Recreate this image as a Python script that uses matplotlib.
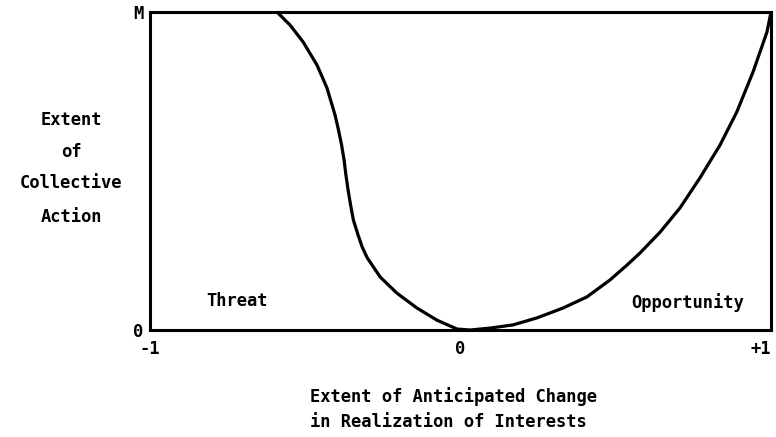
#!/usr/bin/env python3
"""Collective action as a function of anticipated change in realization of interests."""
import matplotlib
matplotlib.use("Agg")
import matplotlib.pyplot as plt

# Curve traced through the threat (left) and opportunity (right) regions.
# x: anticipated change (-1 .. +1), y: extent of collective action (0 .. M=1)
change = [-0.591, -0.549, -0.507, -0.462, -0.430, -0.404, -0.393, -0.383,
          -0.375, -0.369, -0.362, -0.354, -0.345, -0.330, -0.317, -0.301,
          -0.259, -0.205, -0.140, -0.076, -0.011, 0.031, 0.095, 0.169,
          0.246, 0.330, 0.407, 0.481, 0.536, 0.578, 0.643, 0.707, 0.771,
          0.836, 0.890, 0.942, 0.987, 1.000]
action = [1.000, 0.959, 0.906, 0.833, 0.761, 0.676, 0.629, 0.582,
          0.535, 0.487, 0.440, 0.393, 0.346, 0.299, 0.262, 0.228,
          0.167, 0.116, 0.069, 0.031, 0.003, 0.000, 0.006, 0.016,
          0.038, 0.069, 0.104, 0.157, 0.204, 0.242, 0.308, 0.384, 0.478,
          0.582, 0.686, 0.811, 0.937, 1.000]

x_ticks = [-1, 0, 1]
x_tick_labels = ["-1", "0", "+1"]
y_ticks = [0, 1]
y_tick_labels = ["0", "M"]

y_label_lines = ["Extent", "of", "Collective", "Action"]
x_label_lines = ["Extent of Anticipated Change", "in Realization of Interests"]

FONT = dict(family="DejaVu Sans Mono", fontweight="bold", fontsize=12.3)
W, H = 776, 437

fig = plt.figure(figsize=(W / 100, H / 100), dpi=100)
ax = fig.add_axes([150 / W, 1 - 330 / H, 621 / W, 318 / H])

ax.plot(change, action, color="black", lw=2.3, solid_capstyle="round",
        solid_joinstyle="round")
ax.set_xlim(-1, 1)
ax.set_ylim(0, 1)

for side in ax.spines.values():
    side.set_linewidth(2.2)

ax.set_xticks(x_ticks)
ax.set_xticklabels(x_tick_labels, **FONT)
ax.set_yticks(y_ticks)
ax.set_yticklabels(y_tick_labels, **FONT)
ax.tick_params(axis="both", length=0)
ax.tick_params(axis="x", pad=7)
ax.tick_params(axis="y", pad=5)
# keep the right end label inside the figure
ax.get_xticklabels()[-1].set_ha("right")

# region labels inside the box
ax.text(-0.72, 0.09, "Threat", ha="center", va="center", **FONT)
ax.text(0.73, 0.085, "Opportunity", ha="center", va="center", **FONT)

# stacked y-axis caption
for text, ypix in zip(y_label_lines, [120, 152, 183, 217]):
    fig.text(71 / W, 1 - ypix / H, text, ha="center", va="center", **FONT)

# two-line x-axis caption
for text, ypix in zip(x_label_lines, [397, 422]):
    fig.text(310 / W, 1 - ypix / H, text, ha="left", va="center", **FONT)

fig.savefig("out.png", dpi=100)
